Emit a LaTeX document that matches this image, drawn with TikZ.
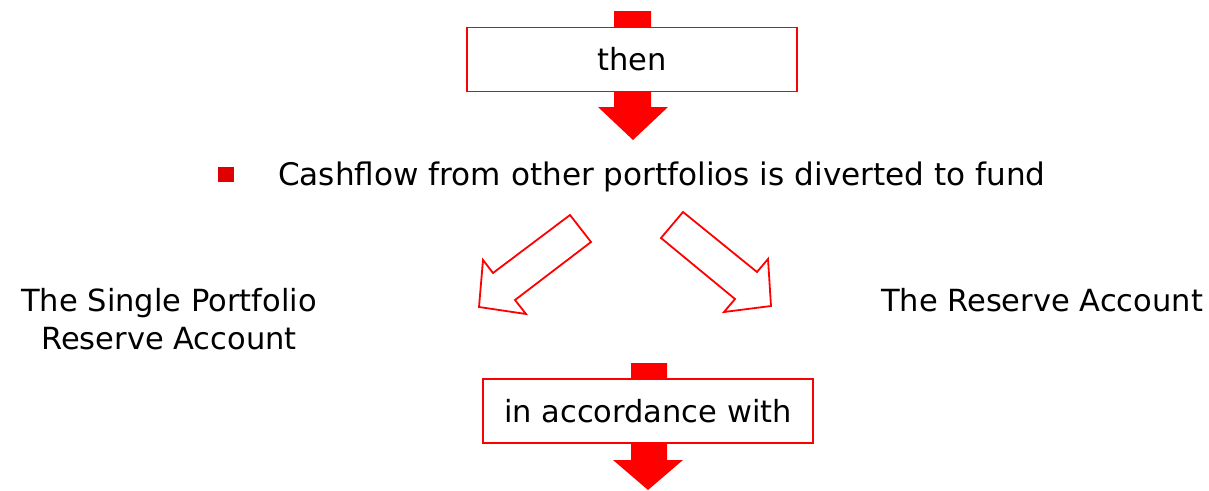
\documentclass[tikz,border=0pt]{standalone}
\usepackage{fontspec}
\setmainfont{DejaVu Sans}
\usetikzlibrary{positioning}

\definecolor{arrowred}{RGB}{255,0,0}
\definecolor{bulletred}{RGB}{225,0,0}

\begin{document}
\begin{tikzpicture}[x=1pt, y=-1pt, line join=miter,
  every node/.style = {font = \fontsize{30.5}{38}\selectfont, inner sep=0pt},
  stepbox/.style = {rectangle, draw=arrowred, line width=1.6pt, fill=white,
    minimum height = 64pt},
  hollow/.style = {draw=arrowred, line width=1.8pt, fill=white}]
  \useasboundingbox (0,0) rectangle (1209,490);

  % block arrow through the first step
  \fill[arrowred] (614,11) -- (651,11) -- (651,107) -- (668,107) -- (633,140)
    -- (598,107) -- (614,107) -- cycle;
  \node (Then) [stepbox, minimum width = 330pt] at (632,59.5) {then};

  % bullet line
  \node (Bullet) [fill=bulletred, minimum width=16pt, minimum height=15pt] at (226,174.5) {};
  \node (Cash) [anchor=base west, font=\fontsize{31.1}{38}\selectfont] at (278,185)
    {Cashflow from other portfolios is diverted to fund};

  % the two hollow arrows
  \draw[hollow] (570,215) -- (591,242) -- (515,300) -- (526,314) -- (479,307)
    -- (483,260) -- (493,273) -- cycle;
  \draw[hollow] (683,212) -- (661,238) -- (735,299) -- (724,312) -- (771,306)
    -- (768,259) -- (757,272) -- cycle;

  \node (SingleRA) [align=center, anchor=base] at (169,349) {The Single Portfolio\\Reserve Account};
  \node (ReserveA) [anchor=base] at (1042,311) {The Reserve Account};

  % block arrow through the second step
  \fill[arrowred] (631,363) -- (667,363) -- (667,460) -- (683,460) -- (648,490)
    -- (613,460) -- (631,460) -- cycle;
  \node (Accord) [stepbox, minimum width = 330pt] at (648,411) {in accordance with};
\end{tikzpicture}
\end{document}
